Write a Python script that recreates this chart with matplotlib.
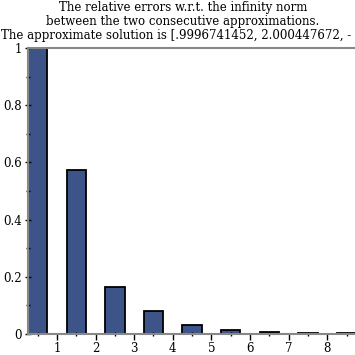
import numpy as np
import matplotlib.pyplot as plt
from matplotlib.ticker import MultipleLocator

# relative errors between consecutive iterates
iterations = [1, 2, 3, 4, 5, 6, 7, 8, 9]
rel_errors = [1.0, 0.573, 0.165, 0.082, 0.031, 0.015, 0.008, 0.005, 0.003]
ytick_labels = ['0', '0.2', '0.4', '0.6', '0.8', '1']

title_lines = ['The relative errors w.r.t. the infinity norm',
               'between the two consecutive approximations.']
solution_line = 'The approximate solution is [.9996741452, 2.000447672, -'

plt.rcParams['font.family'] = 'DejaVu Serif'

fig = plt.figure(figsize=(3.55, 3.55), dpi=100)
ax = fig.add_axes([28/355, 1 - 334/355, 1 - 28/355, (334 - 48)/355])

x = np.array(iterations) - 0.5
ax.bar(x, rel_errors, width=0.5, color='#3c5488', edgecolor='black', linewidth=1.3)

ax.set_xlim(0.25, 8.72)
ax.set_ylim(0, 1)

ax.xaxis.set_major_locator(MultipleLocator(1))
ax.xaxis.set_minor_locator(MultipleLocator(0.5))
ax.set_yticks([0, 0.2, 0.4, 0.6, 0.8, 1.0])
ax.set_yticklabels(ytick_labels)
ax.yaxis.set_minor_locator(MultipleLocator(0.1))

for s in ['left', 'bottom', 'top']:
    ax.spines[s].set_color('#888888')
    ax.spines[s].set_linewidth(1.5)
ax.spines['right'].set_visible(False)

ax.tick_params(which='major', length=5, width=1, color='black', direction='inout', labelsize=8.5, pad=2)
ax.tick_params(which='minor', length=3, width=1, color='black', direction='inout')
ax.tick_params(axis='x', which='major', direction='out', length=4)

# three-line title, the last one runs off the right edge like the original
fig.text(183/355, 1 - 8/355, title_lines[0], ha='center', va='center', fontsize=8.5)
fig.text(183/355, 1 - 22/355, title_lines[1], ha='center', va='center', fontsize=8.5)
fig.text(1/355, 1 - 36/355, solution_line, ha='left', va='center', fontsize=8.5)

fig.savefig('out.png', dpi=100)
